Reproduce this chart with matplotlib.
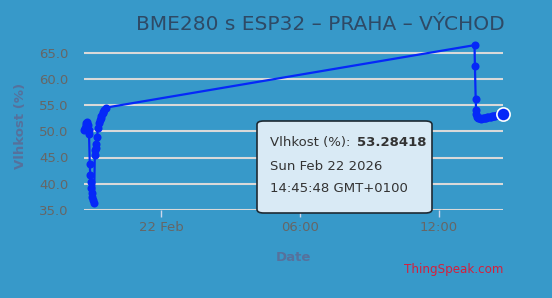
import pandas as pd
import matplotlib.pyplot as plt
import matplotlib.dates as mdates
from matplotlib.patches import FancyBboxPatch

# humidity readings (ThingSpeak field)
times = [
    "2026-02-21 20:40", "2026-02-21 20:42", "2026-02-21 20:44", "2026-02-21 20:46",
    "2026-02-21 20:48", "2026-02-21 20:50", "2026-02-21 20:52", "2026-02-21 20:53",
    "2026-02-21 20:55", "2026-02-21 20:56", "2026-02-21 20:57", "2026-02-21 20:59",
    "2026-02-21 21:00", "2026-02-21 21:02", "2026-02-21 21:04", "2026-02-21 21:06",
    "2026-02-21 21:08", "2026-02-21 21:09", "2026-02-21 21:11", "2026-02-21 21:12",
    "2026-02-21 21:14", "2026-02-21 21:16", "2026-02-21 21:18", "2026-02-21 21:21",
    "2026-02-21 21:23", "2026-02-21 21:25", "2026-02-21 21:28", "2026-02-21 21:30",
    "2026-02-21 21:33", "2026-02-21 21:37",
    "2026-02-22 13:32", "2026-02-22 13:33", "2026-02-22 13:35", "2026-02-22 13:36",
    "2026-02-22 13:37", "2026-02-22 13:39", "2026-02-22 13:41", "2026-02-22 13:44",
    "2026-02-22 13:47", "2026-02-22 13:50", "2026-02-22 13:53", "2026-02-22 13:56",
    "2026-02-22 13:59", "2026-02-22 14:02", "2026-02-22 14:05", "2026-02-22 14:08",
    "2026-02-22 14:11", "2026-02-22 14:14", "2026-02-22 14:17", "2026-02-22 14:20",
    "2026-02-22 14:23", "2026-02-22 14:26", "2026-02-22 14:29", "2026-02-22 14:32",
    "2026-02-22 14:35", "2026-02-22 14:38", "2026-02-22 14:41", "2026-02-22 14:45:48",
]
humidity = [
    50.2, 50.7, 51.1, 51.5, 51.7, 51.2, 50.3, 49.4,
    43.8, 41.6, 40.3, 39.2, 38.3, 37.5, 36.9, 36.4,
    45.4, 46.5, 47.6, 46.8, 48.9, 50.6, 51.5, 52.1,
    52.6, 53.0, 53.4, 53.7, 54.0, 54.5,
    66.4, 62.5, 56.2, 54.1, 53.2, 52.8, 52.6, 52.5,
    52.5, 52.4, 52.5, 52.5, 52.6, 52.6, 52.7, 52.7,
    52.8, 52.8, 52.9, 52.9, 53.0, 53.0, 53.1, 53.1,
    53.2, 53.2, 53.3, 53.28418,
]
y_ticks = [35, 40, 45, 50, 55, 60, 65]

t = pd.to_datetime(times, format='mixed')

bg = '#3799c9'
lbl = '#56719c'
fig = plt.figure(figsize=(5.52, 2.98), dpi=100, facecolor=bg)
ax = fig.add_axes([84/552, 1-210/298, (503-84)/552, (210-42)/298])
ax.set_facecolor(bg)

ax.plot(t, humidity, color='#0528f8', lw=1.6, marker='o', ms=5.8,
        markeredgewidth=0, zorder=3, clip_on=False)
# hovered point
ax.plot(t[-1:], humidity[-1:], 'o', color='#0528f8', ms=9.5, mec='white',
        mew=1.2, zorder=4, clip_on=False)

ax.set_xlim(t[0], t[-1])
ax.set_ylim(35, 67)
ax.set_yticks(y_ticks)
ax.yaxis.set_major_formatter(plt.FuncFormatter(lambda v, p: f"{v:.1f}"))
ax.grid(axis='y', color='#d9d9d9', lw=1.5)
ax.set_axisbelow(True)

ax.xaxis.set_major_locator(mdates.HourLocator(byhour=[0, 6, 12, 18]))
def fmt_date(v, p):
    d = mdates.num2date(v)
    return d.strftime('%d %b') if d.hour == 0 else d.strftime('%H:%M')
ax.xaxis.set_major_formatter(plt.FuncFormatter(fmt_date))

for s in ax.spines.values():
    s.set_visible(False)
ax.tick_params(axis='y', length=0, labelsize=9.5, labelcolor='#666666', pad=11)
ax.tick_params(axis='x', length=5, width=1, color='#ccd6eb', labelsize=9.5,
               labelcolor='#666666', pad=3)

ax.set_ylabel('Vlhkost (%)', fontsize=9.5, fontweight='bold', color=lbl, labelpad=9)
ax.set_xlabel('Date', fontsize=9.5, fontweight='bold', color=lbl, labelpad=12)

fig.text(320/552, 1-24/298, 'BME280 s ESP32 – PRAHA – VÝCHOD', ha='center',
         va='center', fontsize=14.5, color='#2e4a66')
fig.text(503/552, 1-270/298, 'ThingSpeak.com', ha='right', va='center',
         fontsize=8.6, color='#d61f3c')

# tooltip box
box = FancyBboxPatch((257/552, 1-213/298), 175/552, 92/298,
                     boxstyle='round,pad=0,rounding_size=0.012',
                     transform=fig.transFigure, facecolor='#d9eaf5',
                     edgecolor='#1e2a33', lw=1.2, zorder=5)
fig.patches.append(box)
name = fig.text(270/552, 1-143/298, 'Vlhkost (%): ', fontsize=9.5, color='#333333',
                va='center', zorder=6)
r = fig.canvas.get_renderer()
bb = name.get_window_extent(r)
fig.text(bb.x1/552 + 2/552, 1-143/298, f'{humidity[-1]:.5f}', fontsize=9.5,
         fontweight='bold', color='#333333', va='center', zorder=6)
fig.text(270/552, 1-166/298, 'Sun Feb 22 2026', fontsize=9.5, color='#333333',
         va='center', zorder=6)
fig.text(270/552, 1-188/298, '14:45:48 GMT+0100', fontsize=9.5, color='#333333',
         va='center', zorder=6)

fig.savefig('out.png', dpi=100, facecolor=bg)
